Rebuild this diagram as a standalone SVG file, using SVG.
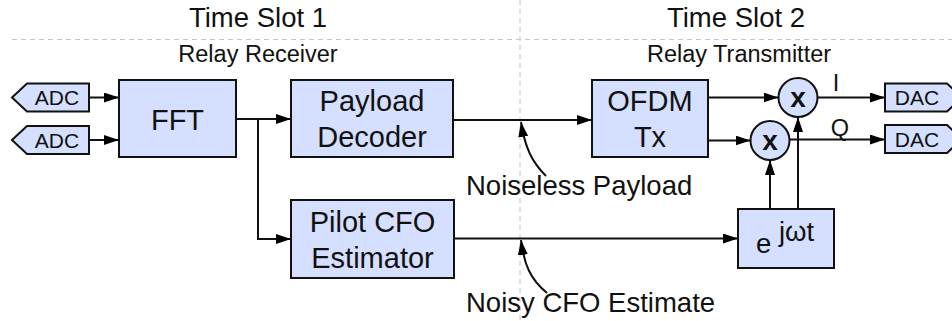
<svg xmlns="http://www.w3.org/2000/svg" width="952" height="321" viewBox="0 0 952 321">
<defs>
<marker id="ah" viewBox="0 0 15 10" refX="15" refY="5" markerWidth="15" markerHeight="10" markerUnits="userSpaceOnUse" orient="auto">
<path d="M0,0 L15,5 L0,10 Z" fill="#000"/>
</marker>
<style>
.box{fill:#d5dfff;stroke:#111;stroke-width:2}
.lbl{font-family:"Liberation Sans",Arial,Helvetica,sans-serif;fill:#111;text-anchor:middle}
.big{font-size:29px}
.mix{font-size:28px;font-weight:bold}
.hdr{font-size:27.5px}
.sub{font-size:23.5px}
.io{font-size:21px}
.ann{font-family:"Liberation Sans",Arial,Helvetica,sans-serif;fill:#111;font-size:27.5px}
.wire{fill:none;stroke:#111;stroke-width:2}
.arr{marker-end:url(#ah)}
.dash{fill:none;stroke:#c4c4c4;stroke-width:1;stroke-dasharray:5,4}
</style>
</defs>
<rect width="952" height="321" fill="#fff"/>
<g id="guides">
<line class="dash" x1="12" y1="39.5" x2="952" y2="39.5"/>
<line class="dash" x1="520" y1="0" x2="520" y2="321"/>
</g>
<g id="headers">
<text class="lbl hdr" x="258" y="27">Time Slot 1</text>
<text class="lbl hdr" x="736" y="27">Time Slot 2</text>
<text class="lbl sub" x="258" y="62">Relay Receiver</text>
<text class="lbl sub" x="739" y="62">Relay Transmitter</text>
</g>
<g id="adc1"><polygon class="box" points="12,97.5 27,83.5 89,83.5 89,111.5 27,111.5"/><text class="lbl io" x="57" y="105">ADC</text></g>
<g id="adc2"><polygon class="box" points="12,140 27,126 89,126 89,154 27,154"/><text class="lbl io" x="57" y="147.5">ADC</text></g>
<g id="fft"><rect class="box" x="119" y="80" width="117" height="77"/><text class="lbl big" x="177.5" y="129.5">FFT</text></g>
<g id="payload"><rect class="box" x="291" y="80" width="162" height="77"/><text class="lbl big" x="372" y="111">Payload</text><text class="lbl big" x="372" y="147">Decoder</text></g>
<g id="pilot"><rect class="box" x="291" y="200" width="163" height="78"/><text class="lbl big" x="372.5" y="231.5">Pilot CFO</text><text class="lbl big" x="372.5" y="267.5">Estimator</text></g>
<g id="ofdm"><rect class="box" x="592" y="80" width="116" height="77"/><text class="lbl big" x="650" y="111">OFDM</text><text class="lbl big" x="650" y="147">Tx</text></g>
<g id="mixI"><circle class="box" cx="798" cy="97.5" r="19.5"/><text class="lbl mix" x="798" y="106.5">x</text></g>
<g id="mixQ"><circle class="box" cx="770" cy="140.5" r="19.5"/><text class="lbl mix" x="770" y="149.5">x</text></g>
<g id="osc"><rect class="box" x="738" y="209" width="96" height="59"/><text class="ann" x="756" y="253">e <tspan dy="-12">jωt</tspan></text></g>
<g id="dac1"><polygon class="box" points="885,83.5 947,83.5 962,97.5 947,111.5 885,111.5"/><text class="lbl io" x="917" y="105">DAC</text></g>
<g id="dac2"><polygon class="box" points="885,125 947,125 962,139 947,153 885,153"/><text class="lbl io" x="917" y="146.5">DAC</text></g>
<g id="connectors">
<path class="wire arr" d="M89,97.5 L119,97.5"/>
<path class="wire arr" d="M89,140 L119,140"/>
<path class="wire arr" d="M236,119 L291,119"/>
<path class="wire arr" d="M258,119 L258,239 L291,239"/>
<path class="wire arr" d="M453,120 L592,120"/>
<path class="wire arr" d="M454,238.5 L738,238.5"/>
<path class="wire arr" d="M708,97.5 L778.5,97.5"/>
<path class="wire arr" d="M708,140.5 L750.5,140.5"/>
<path class="wire arr" d="M817.5,97.5 L885,97.5"/>
<path class="wire arr" d="M789.5,139.5 L885,139.5"/>
<path class="wire arr" d="M770,209 L770,160"/>
<path class="wire arr" d="M798,209 L798,117"/>
<path class="wire arr" d="M546,176 C532,162 525,148 521,122"/>
<path class="wire arr" d="M547,293 C530,279 524,264 521,240"/>
<text class="lbl sub" x="836" y="91">I</text>
<text class="lbl sub" x="840" y="136">Q</text>
</g>
<g id="annotations">
<text class="ann" x="466" y="195">Noiseless Payload</text>
<text class="ann" x="466" y="312">Noisy CFO Estimate</text>
</g>
</svg>
